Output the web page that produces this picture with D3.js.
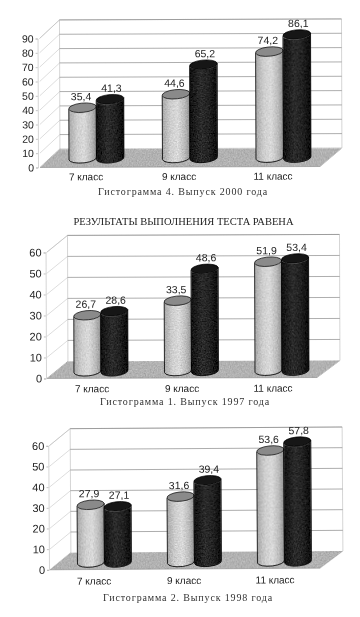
<!DOCTYPE html>
<html><head><meta charset="utf-8">
<style>html,body{margin:0;padding:0;background:#fff}svg{display:block}</style>
<script src="https://cdn.jsdelivr.net/npm/d3@7"></script></head><body>
<svg id="c" width="360" height="617"></svg>
<script>
const categories = ["7 класс", "9 класс", "11 класс"];
const series = ["a", "b"];
const values2000 = [[35.4, 41.3], [44.6, 65.2], [74.2, 86.1]];
const values1997 = [[26.7, 28.6], [33.5, 48.6], [51.9, 53.4]];
const values1998 = [[27.9, 27.1], [31.6, 39.4], [53.6, 57.8]];
const ticks2000 = [0,10,20,30,40,50,60,70,80,90];
const ticks1997 = [0,10,20,30,40,50,60];
const ticks1998 = [0,10,20,30,40,50,60];
const mainTitle = "РЕЗУЛЬТАТЫ ВЫПОЛНЕНИЯ ТЕСТА РАВЕНА";
const captions = ["Гистограмма 4. Выпуск 2000 года","Гистограмма 1. Выпуск 1997 года","Гистограмма 2. Выпуск 1998 года"];

const panels = [
 {values:values2000,ticks:ticks2000,caption:captions[0],max:90,
  y0:167,yT:38,fx:40,fr:320,dx:20,dy:-18.5,baseY:158,bx:[49.75,330.25],bw:55,barK:1.43,
  labX:[86,179,273],labY:177,capX:183,capY:192,axX:38,rot:-0.2,tilt:-1.5},
 {values:values1997,ticks:ticks1997,caption:captions[1],max:60,
  y0:378,yT:252,fx:47,fr:317,dx:21,dy:-17,baseY:371,bx:[55.75,327.25],bw:54,barK:2.1,
  labX:[92,182,273],labY:389,capX:185,capY:402,axX:46,rot:-0.2,tilt:-1.5},
 {values:values1998,ticks:ticks1998,caption:captions[2],max:60,
  y0:569,yT:445,fx:50,fr:320,dx:21,dy:-17,baseY:562,bx:[59.5,329.5],bw:54,barK:2.07,
  labX:[94,184,275],labY:581,capX:188,capY:598,axX:49,rot:-0.35,tilt:-1.5}
];

const svg = d3.select("#c");
const defs = svg.append("defs");
function grad(id, stops){
  const g = defs.append("linearGradient").attr("id",id);
  stops.forEach(([o,c])=>g.append("stop").attr("offset",o).attr("stop-color",c));
}
grad("lightG",[[0,"#a8a8a8"],[.3,"#cfcfcf"],[.55,"#dadada"],[.8,"#bcbcbc"],[1,"#909090"]]);
grad("darkG",[[0,"#101010"],[.4,"#2c2c2c"],[.7,"#222"],[1,"#080808"]]);
function grain(id,k){
  const f = defs.append("filter").attr("id",id).attr("x","0").attr("y","-5%").attr("width","100%").attr("height","110%")
    .attr("color-interpolation-filters","sRGB");
  f.append("feTurbulence").attr("type","fractalNoise").attr("baseFrequency",.75).attr("numOctaves",2).attr("seed",4).attr("result","n");
  f.append("feColorMatrix").attr("in","n").attr("type","matrix")
    .attr("values","0.33 0.33 0.33 0 0 0.33 0.33 0.33 0 0 0.33 0.33 0.33 0 0 0 0 0 0 1").attr("result","g");
  f.append("feComposite").attr("in","SourceGraphic").attr("in2","g").attr("operator","arithmetic")
    .attr("k1",0).attr("k2",1).attr("k3",k).attr("k4",-k/2).attr("result","m");
  f.append("feComposite").attr("in","m").attr("in2","SourceAlpha").attr("operator","in");
}
grain("grainD",.55); grain("grainL",.4);
const soft = defs.append("filter").attr("id","soft").attr("x","-2%").attr("y","-2%").attr("width","104%").attr("height","104%");
soft.append("feGaussianBlur").attr("stdDeviation",.4);

const fmt = d3.formatLocale({decimal:",",thousands:" ",grouping:[3],currency:["",""]}).format(".1f");
const root = svg.append("g").attr("filter","url(#soft)");

panels.forEach(p=>{
  const g = root.append("g").attr("transform",`rotate(${p.rot} 180 ${p.y0})`);
  const y = d3.scaleLinear().domain([0,p.max]).range([p.y0,p.yT]);
  const h = d3.scaleLinear().domain([0,p.max]).range([p.baseY,p.baseY-p.barK*p.max]);
  const x = d3.scaleBand().domain(categories).range(p.bx);
  const xs = d3.scaleBand().domain(series).range([0,p.bw]);
  const bl = p.fx+p.dx, br = p.fr+p.dx+2, topY = y(p.max)+p.dy;

  g.append("path").attr("fill","#fff").attr("stroke","#aaa").attr("stroke-width",.5)
    .attr("d",`M${p.fx},${p.y0}L${bl},${p.y0+p.dy}V${topY}H${br}V${p.y0+p.dy}`);
  g.append("path").attr("fill","none").attr("stroke","#aaa").attr("stroke-width",.5)
    .attr("d",`M${p.fx},${y(p.max)}L${bl},${topY}`);
  g.append("polygon").attr("fill","#b2b2b2").attr("filter","url(#grainL)")
    .attr("points",[[p.fx,p.y0],[p.fr,p.y0],[br,p.y0+p.dy],[bl,p.y0+p.dy]].join(" "));
  const ticks = p.ticks.slice(1);
  g.selectAll(".w").data(ticks).join("line").attr("stroke","#bbb").attr("stroke-width",.5)
    .attr("x1",p.fx).attr("y1",d=>y(d)).attr("x2",bl).attr("y2",d=>y(d)+p.dy);
  g.selectAll(".b").data(ticks).join("line").attr("stroke","#777").attr("stroke-width",.6)
    .attr("x1",bl).attr("y1",d=>y(d)+p.dy).attr("x2",br).attr("y2",d=>y(d)+p.dy);
  g.append("line").attr("x1",p.fx).attr("y1",p.y0).attr("x2",p.fr).attr("y2",p.y0).attr("stroke","#888").attr("stroke-width",.6);
  g.append("line").attr("x1",p.fr).attr("y1",p.y0).attr("x2",br).attr("y2",p.y0+p.dy).attr("stroke","#aaa").attr("stroke-width",.5);
  const ax = g.append("g").attr("transform",`translate(${p.axX},0)`)
    .call(d3.axisLeft(y).tickValues(p.ticks).tickSize(2).tickPadding(2));
  ax.select(".domain").attr("stroke","#aaa").attr("stroke-width",.5);
  ax.selectAll(".tick line").attr("stroke","#888").attr("stroke-width",.5);
  ax.selectAll("text").attr("font-family","Liberation Sans").attr("font-size",p.max===90?10.5:11).attr("fill","#222");

  categories.forEach((c,i)=>{
    series.forEach((s,j)=>{
      const v = p.values[i][j];
      const x0 = x(c)+(x.bandwidth()-p.bw)/2+xs(s), x1 = x0+xs.bandwidth();
      const t = h(v), b = p.baseY, rx = (x1-x0)/2, ry = 4.6, tl = p.tilt, rot=-5;
      const bar = g.append("g");
      bar.append("path").attr("fill",`url(#${j?"darkG":"lightG"})`).attr("filter",`url(#${j?"grainD":"grainL"})`)
        .attr("d",`M${x0},${t-tl}L${x0},${b-tl}A${rx},${ry} ${rot} 0 0 ${x1},${b+tl}L${x1},${t+tl}A${rx},${ry} ${rot} 0 1 ${x0},${t-tl}Z`);
      bar.append("path").attr("fill","none").attr("stroke","#000").attr("stroke-width",.8)
        .attr("d",`M${x0},${t-tl}L${x0},${b-tl}A${rx},${ry} ${rot} 0 0 ${x1},${b+tl}L${x1},${t+tl}`);
      bar.append("path").attr("fill",j?"#141414":"#8a8a8a").attr("stroke","#000").attr("stroke-width",.7)
        .attr("d",`M${x0},${t-tl}A${rx},${ry} ${rot} 0 1 ${x1},${t+tl}A${rx},${ry} ${rot} 0 1 ${x0},${t-tl}Z`);
      g.append("text").attr("class","val").attr("x",(x0+x1)/2+(j?1.5:-1.5)).attr("y",t-7.5).attr("text-anchor","middle")
        .attr("font-family","Liberation Sans").attr("font-size",10.5).attr("fill","#222").text(fmt(v));
    });
    g.append("text").attr("x",p.labX[i]).attr("y",p.labY+3).attr("text-anchor","middle")
      .attr("font-family","Liberation Sans").attr("font-size",10).attr("fill","#222").text(c);
  });
  root.append("text").attr("x",p.capX).attr("y",p.capY+3).attr("text-anchor","middle")
    .attr("font-family","Liberation Serif").attr("font-size",10).attr("letter-spacing",.85).attr("fill","#333").text(p.caption);
});
root.append("text").attr("x",183.5).attr("y",225).attr("text-anchor","middle")
  .attr("font-family","Liberation Serif").attr("font-size",10.5).attr("fill","#222").text(mainTitle);
</script></body></html>
